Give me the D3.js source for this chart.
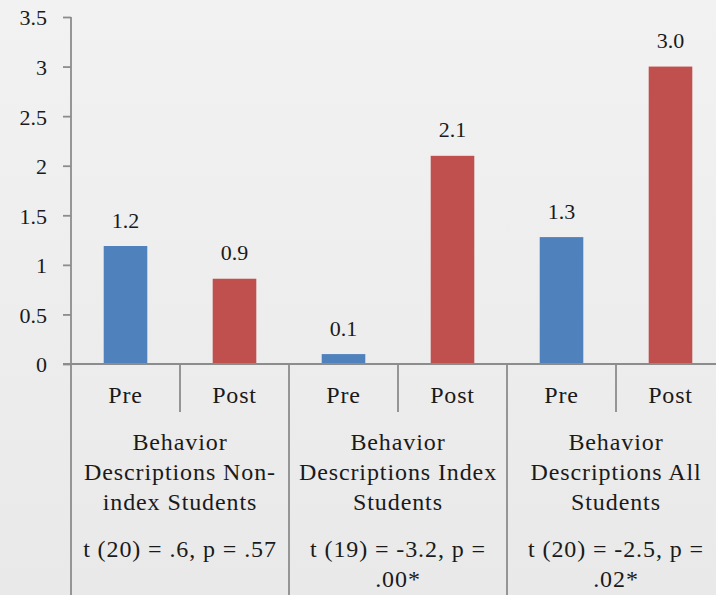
<!DOCTYPE html>
<html>
<head>
<meta charset="utf-8">
<script src="https://cdn.jsdelivr.net/npm/d3@7"></script>
<style>
  html, body { margin: 0; padding: 0; overflow: hidden; }
  body { width: 716px; height: 595px; }
  svg { display: block; }
  text { font-family: "Liberation Serif", "Times New Roman", serif; fill: #1a1a1a; }
</style>
</head>
<body>
<svg id="chart" width="716" height="595"></svg>
<script>
// Mean behaviour-description scores before and after, per student group
const groupIds = ["nonindex", "index", "all"];
const groupLabelLines = [
  ["Behavior", "Descriptions Non-", "index Students"],
  ["Behavior", "Descriptions Index", "Students"],
  ["Behavior", "Descriptions All", "Students"]
];
const statLines = [
  ["t (20) = .6, p = .57"],
  ["t (19) = -3.2, p =", ".00*"],
  ["t (20) = -2.5, p =", ".02*"]
];
const phases = ["Pre", "Post"];
const preValues = [1.19, 0.1, 1.28];
const postValues = [0.86, 2.1, 3.0];
const yTicks = [0, 0.5, 1, 1.5, 2, 2.5, 3, 3.5];

const phaseColor = { Pre: "#4f81bd", Post: "#c0504d" };
const axisColor = "#8c8c8c";

const W = 716, H = 595;
const plotLeft = 71, plotRight = 725, plotTop = 17, plotBottom = 364;

const svg = d3.select("#chart");

// soft grey backdrop
const defs = svg.append("defs");
const grad = defs.append("linearGradient").attr("id", "bg").attr("x1", 0).attr("y1", 0).attr("x2", 0).attr("y2", 1);
grad.append("stop").attr("offset", 0).attr("stop-color", "#f2f2f2");
grad.append("stop").attr("offset", 1).attr("stop-color", "#e9e9e9");
svg.append("rect").attr("width", W).attr("height", H).attr("fill", "url(#bg)");

// flattened records: one per bar
const records = [];
groupIds.forEach((g, i) => {
  records.push({ group: g, phase: "Pre", key: g + "-Pre", value: preValues[i] });
  records.push({ group: g, phase: "Post", key: g + "-Post", value: postValues[i] });
});

const xGroup = d3.scaleBand().domain(groupIds).range([plotLeft, plotRight]).padding(0);
const xSlot = d3.scaleBand().domain(records.map(d => d.key)).range([plotLeft, plotRight]).padding(0);
const y = d3.scaleLinear().domain([0, 3.5]).range([plotBottom, plotTop]);

const barWidth = xSlot.bandwidth() * 0.4;
const fmt = d3.format(".1f");

// bars
svg.append("g").selectAll("rect").data(records).join("rect")
  .attr("x", d => xSlot(d.key) + (xSlot.bandwidth() - barWidth) / 2)
  .attr("width", barWidth)
  .attr("y", d => y(d.value))
  .attr("height", d => y(0) - y(d.value))
  .attr("fill", d => phaseColor[d.phase]);

// value labels
svg.append("g").selectAll("text").data(records).join("text")
  .attr("x", d => xSlot(d.key) + xSlot.bandwidth() / 2)
  .attr("y", d => y(d.value) - 18.5)
  .attr("text-anchor", "middle")
  .style("font-size", "22px")
  .text(d => fmt(d.value));

// y axis
const yAxis = svg.append("g").attr("transform", `translate(${plotLeft},0)`)
  .call(d3.axisLeft(y).tickValues(yTicks).tickFormat(d3.format("")).tickSize(8).tickPadding(16));
yAxis.select(".domain").remove();
yAxis.selectAll(".tick line").attr("stroke", axisColor).attr("stroke-width", 1.8);
yAxis.selectAll(".tick text")
  .attr("fill", "#1a1a1a")
  .attr("dy", "0.36em")
  .style("font-family", "'Liberation Serif', 'Times New Roman', serif")
  .style("font-size", "22px");

const lines = svg.append("g").attr("stroke", axisColor).attr("stroke-width", 1.8);
// vertical axis line, running down through the category area
lines.append("line").attr("x1", plotLeft).attr("x2", plotLeft).attr("y1", plotTop).attr("y2", H);
// horizontal axis line
lines.append("line").attr("x1", plotLeft - 8).attr("x2", W).attr("y1", plotBottom).attr("y2", plotBottom);

// dividers between Pre/Post slots (short) and between groups (full depth)
const slotEdges = records.map(d => xSlot(d.key)).slice(1).concat([plotRight]);
lines.selectAll("line.div").data(slotEdges).join("line")
  .attr("class", "div")
  .attr("x1", d => d).attr("x2", d => d)
  .attr("y1", plotBottom)
  .attr("y2", (d, i) => (i % 2 === 0 ? 412 : H));

// phase labels under each bar
svg.append("g").selectAll("text").data(records).join("text")
  .attr("x", d => xSlot(d.key) + xSlot.bandwidth() / 2)
  .attr("y", 402.5)
  .attr("text-anchor", "middle")
  .style("font-size", "24px")
  .style("letter-spacing", "0.8px")
  .text(d => d.phase);

// group labels and test statistics
const groupText = svg.append("g").selectAll("text").data(groupIds).join("text")
  .attr("text-anchor", "middle")
  .style("font-size", "24px")
  .style("letter-spacing", "0.9px");

groupText.each(function (g, i) {
  const t = d3.select(this);
  const cx = xGroup(g) + xGroup.bandwidth() / 2;
  groupLabelLines[i].forEach((line, j) => {
    t.append("tspan").attr("x", cx).attr("y", 450 + j * 30).text(line);
  });
  statLines[i].forEach((line, j) => {
    t.append("tspan").attr("x", cx).attr("y", 557 + j * 30).text(line);
  });
});
</script>
</body>
</html>
